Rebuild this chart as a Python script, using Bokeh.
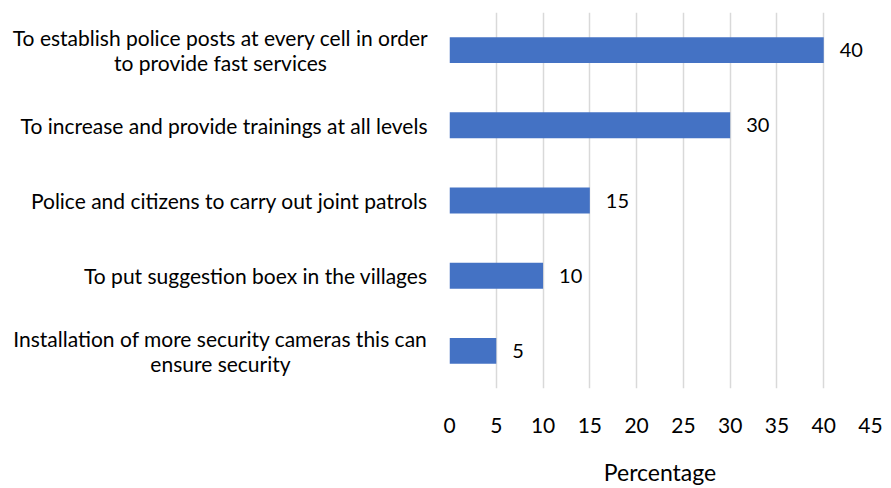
from bokeh.plotting import figure
from bokeh.layouts import row
from bokeh.models import Range1d, FactorRange, ColumnDataSource, FixedTicker
from bokeh.core.properties import value
from bokeh.embed import file_html
from bokeh.resources import INLINE

categories = [
    "To establish police posts at every cell in order\nto provide fast services",
    "To increase and provide trainings at all levels",
    "Police and citizens to carry out joint patrols",
    "To put suggestion boex in the villages",
    "Installation of more security cameras this can\nensure security",
]
values = [40, 30, 15, 10, 5]
x_ticks = [0, 5, 10, 15, 20, 25, 30, 35, 40, 45]
FONT = "Lato"

H = 488
TOP = 12
BOTTOM = 98
factors = list(reversed(categories))
yr = FactorRange(*factors, range_padding=0)

# left panel holding the category labels
LW = 430
lp = figure(width=LW, height=H, output_backend="svg", toolbar_location=None,
            y_range=yr, x_range=Range1d(0, LW),
            min_border_left=0, min_border_right=0, min_border_top=TOP, min_border_bottom=BOTTOM)
lp.axis.visible = False
lp.grid.visible = False
lp.outline_line_color = None
single = [c for c in categories if "\n" not in c]
multi = [c for c in categories if "\n" in c]
lp.text(x=[427] * len(single), y=single, text=single, text_align="right", text_baseline="middle",
        text_font=value(FONT), text_font_size="21px", text_color="#000000")
lp.text(x=[220] * len(multi), y=multi, text=multi, text_align="center", text_baseline="middle",
        text_font=value(FONT), text_font_size="21px", text_color="#000000", text_line_height=1.03)

p = figure(width=883 - LW, height=H, output_backend="svg", toolbar_location=None,
           y_range=yr, x_range=Range1d(0, 45),
           min_border_left=449 - LW, min_border_right=13, min_border_top=TOP, min_border_bottom=BOTTOM)
p.outline_line_color = None
src = ColumnDataSource(dict(cat=categories, val=values, lab=[str(v) for v in values]))
p.hbar(y="cat", right="val", left=0, height=0.344, source=src, fill_color="#4472C4", line_color=None)
p.text(x="val", y="cat", text="lab", source=src, x_offset=16, text_baseline="middle",
       text_align="left", text_font=value(FONT), text_font_size="20px", text_color="#000000")

p.yaxis.visible = False
p.ygrid.grid_line_color = None
p.xgrid.grid_line_color = "#d9d9d9"
p.xgrid.grid_line_width = 1.5
p.xaxis.ticker = FixedTicker(ticks=x_ticks)
p.xaxis.axis_line_color = None
p.xaxis.major_tick_line_color = None
p.xaxis.minor_tick_line_color = None
p.xaxis.major_tick_out = 0
p.xaxis.major_label_standoff = 29
p.xaxis.major_label_text_font = FONT
p.xaxis.major_label_text_font_size = "21px"
p.xaxis.major_label_text_color = "#000000"
p.xaxis.axis_label = "Percentage"
p.xaxis.axis_label_standoff = 22
p.xaxis.axis_label_text_font = FONT
p.xaxis.axis_label_text_font_size = "23px"
p.xaxis.axis_label_text_font_style = "normal"
p.xaxis.axis_label_text_color = "#000000"

layout = row(lp, p, spacing=0)
open("out.html", "w").write(file_html(layout, INLINE))
